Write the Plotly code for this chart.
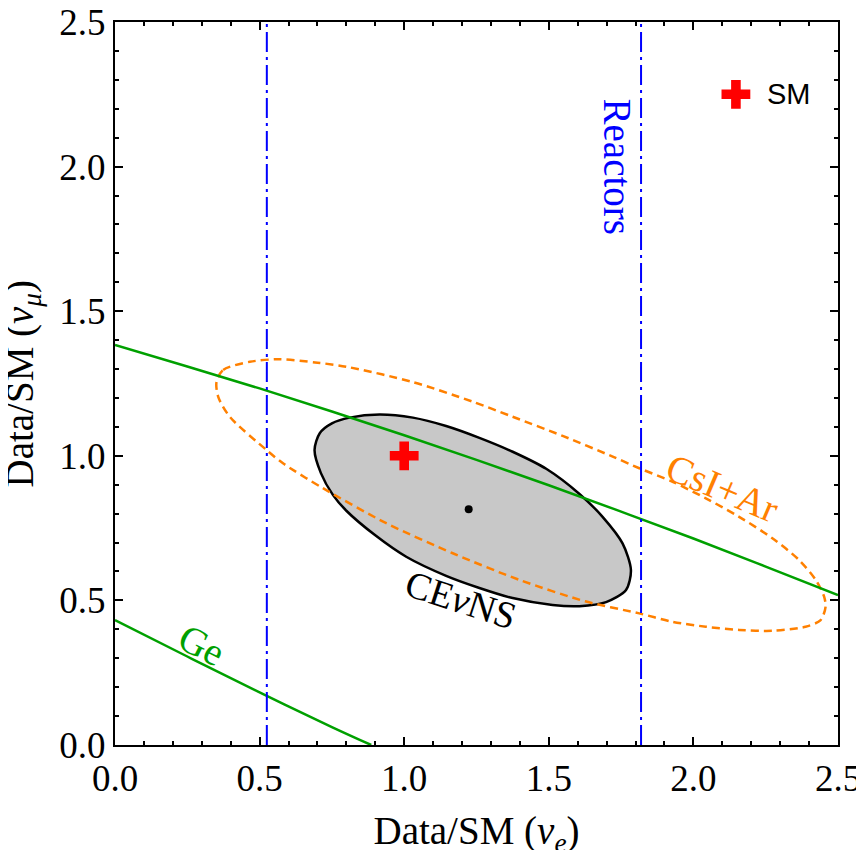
import plotly.graph_objects as go

# ---------------- data ----------------
# CEvNS allowed region (closed contour)
cevns_x = [0.690, 0.708, 0.750, 0.811, 0.915, 1.030, 1.145, 1.260, 1.375, 1.491, 1.606,
           1.686, 1.755, 1.784, 1.767, 1.698, 1.606, 1.513, 1.375, 1.260, 1.145, 1.007,
           0.900, 0.800, 0.754, 0.712, 0.690]
cevns_y = [1.020, 1.078, 1.112, 1.132, 1.143, 1.132, 1.103, 1.062, 1.014, 0.955, 0.868,
           0.789, 0.697, 0.605, 0.536, 0.494, 0.480, 0.484, 0.508, 0.543, 0.585, 0.651,
           0.725, 0.810, 0.864, 0.940, 1.020]

# CsI+Ar contour (closed, dashed)
csi_x = [0.351, 0.374, 0.466, 0.570, 0.700, 0.800, 1.030, 1.237, 1.375, 1.550, 1.721,
         1.813, 1.928, 2.043, 2.158, 2.273, 2.365, 2.423, 2.452, 2.457, 2.440, 2.388,
         2.273, 2.158, 2.043, 1.928, 1.813, 1.629, 1.398, 1.168, 0.938, 0.719, 0.581,
         0.524, 0.397, 0.357, 0.351]
csi_y = [1.255, 1.297, 1.325, 1.334, 1.322, 1.308, 1.255, 1.187, 1.135, 1.068, 0.997,
         0.957, 0.910, 0.853, 0.789, 0.715, 0.640, 0.571, 0.513, 0.478, 0.432, 0.409,
         0.395, 0.398, 0.409, 0.426, 0.455, 0.496, 0.571, 0.663, 0.767, 0.888, 0.974,
         1.020, 1.135, 1.204, 1.255]

# Ge bands (two green lines)
ge_upper_x = [0.0, 0.25, 0.5, 0.75, 1.0, 1.25, 1.5, 1.75, 2.0, 2.25, 2.5]
ge_upper_y = [1.383, 1.309, 1.233, 1.153, 1.071, 0.986, 0.898, 0.807, 0.714, 0.617, 0.518]
ge_lower_x = [0.0, 0.25, 0.5, 0.75, 0.886]
ge_lower_y = [0.432, 0.306, 0.182, 0.062, 0.0]

# Reactor bounds on nu_e
reactor_x = [0.525, 1.819]

# Best fit and SM points
best_fit = (1.223, 0.815)
sm_point = (1.0, 1.0)
legend_marker = (2.147, 2.25)

ticks = [0.0, 0.5, 1.0, 1.5, 2.0, 2.5]
tick_labels = ["0.0", "0.5", "1.0", "1.5", "2.0", "2.5"]

GREEN = "#00a000"
ORANGE = "#ff8000"
BLUE = "#0000ff"
SERIF = "Liberation Serif, Times New Roman, serif"

fig = go.Figure()

fig.add_trace(go.Scatter(x=cevns_x, y=cevns_y, mode="lines", fill="toself",
                         fillcolor="#c8c8c8", line=dict(color="black", width=2.5, shape="spline", smoothing=0.8),
                         showlegend=False, hoverinfo="skip"))
fig.add_trace(go.Scatter(x=csi_x, y=csi_y, mode="lines",
                         line=dict(color=ORANGE, width=2.5, dash="8px,5px", shape="spline", smoothing=0.8),
                         showlegend=False, hoverinfo="skip"))
fig.add_trace(go.Scatter(x=ge_upper_x, y=ge_upper_y, mode="lines",
                         line=dict(color=GREEN, width=2.5, shape="spline"),
                         showlegend=False, hoverinfo="skip"))
fig.add_trace(go.Scatter(x=ge_lower_x, y=ge_lower_y, mode="lines",
                         line=dict(color=GREEN, width=2.5, shape="spline"),
                         showlegend=False, hoverinfo="skip"))
for rx in reactor_x:
    fig.add_trace(go.Scatter(x=[rx, rx], y=[0, 2.5], mode="lines",
                             line=dict(color=BLUE, width=2, dash="20px,5px,3px,5px"),
                             showlegend=False, hoverinfo="skip"))

fig.add_trace(go.Scatter(x=[best_fit[0]], y=[best_fit[1]], mode="markers",
                         marker=dict(color="black", size=8), showlegend=False))
fig.add_trace(go.Scatter(x=[sm_point[0]], y=[sm_point[1]], mode="markers",
                         marker=dict(color="red", symbol="cross", size=24, line=dict(width=0)),
                         showlegend=False))
fig.add_trace(go.Scatter(x=[legend_marker[0]], y=[legend_marker[1]], mode="markers",
                         marker=dict(color="red", symbol="cross", size=24, line=dict(width=0)),
                         showlegend=False))

annotations = [
    dict(x=2.248, y=2.25, text="SM", xanchor="left", yanchor="middle",
         font=dict(family="Liberation Sans, Arial, sans-serif", size=29, color="black")),
    dict(x=2.10, y=0.891, text="CsI+Ar", textangle=23,
         font=dict(family=SERIF, size=39, color=ORANGE)),
    dict(x=1.198, y=0.502, text="CE<i>ν</i>NS", textangle=18,
         font=dict(family=SERIF, size=38, color="black")),
    dict(x=0.299, y=0.346, text="Ge", textangle=27,
         font=dict(family=SERIF, size=39, color=GREEN)),
    dict(x=1.737, y=1.999, text="Reactors", textangle=90,
         font=dict(family=SERIF, size=39, color=BLUE)),
]
for a in annotations:
    a.update(xref="x", yref="y", showarrow=False)

# y-axis title as a rotated annotation placed left of the tick labels
annotations.append(dict(xref="paper", yref="paper", x=0, y=0.5, xshift=-93,
                        xanchor="center", yanchor="middle", textangle=-90, showarrow=False,
                        text="Data/SM (<i>ν<sub>μ</sub></i>)",
                        font=dict(family=SERIF, size=39, color="black")))

axis_common = dict(range=[0, 2.5], tickvals=ticks, ticktext=tick_labels,
                   ticks="inside", ticklen=8, tickwidth=2, tickcolor="black",
                   showline=True, linewidth=2, linecolor="black", mirror="allticks",
                   showgrid=False, zeroline=False, automargin=False,
                   ticklabeloverflow="allow",
                   tickfont=dict(family=SERIF, size=37, color="black"),
                   minor=dict(dtick=0.1, ticks="inside", ticklen=4, tickwidth=1.5,
                              tickcolor="black", showgrid=False))

fig.update_layout(
    width=864, height=850,
    margin=dict(l=107, r=34, t=14, b=113),
    plot_bgcolor="white", paper_bgcolor="white",
    xaxis=dict(**axis_common,
               title=dict(text="Data/SM (<i>ν<sub>e</sub></i>)", standoff=19,
                          font=dict(family=SERIF, size=39, color="black"))),
    yaxis=dict(**axis_common),
    annotations=annotations,
    showlegend=False,
)

fig.write_html("out.html")
